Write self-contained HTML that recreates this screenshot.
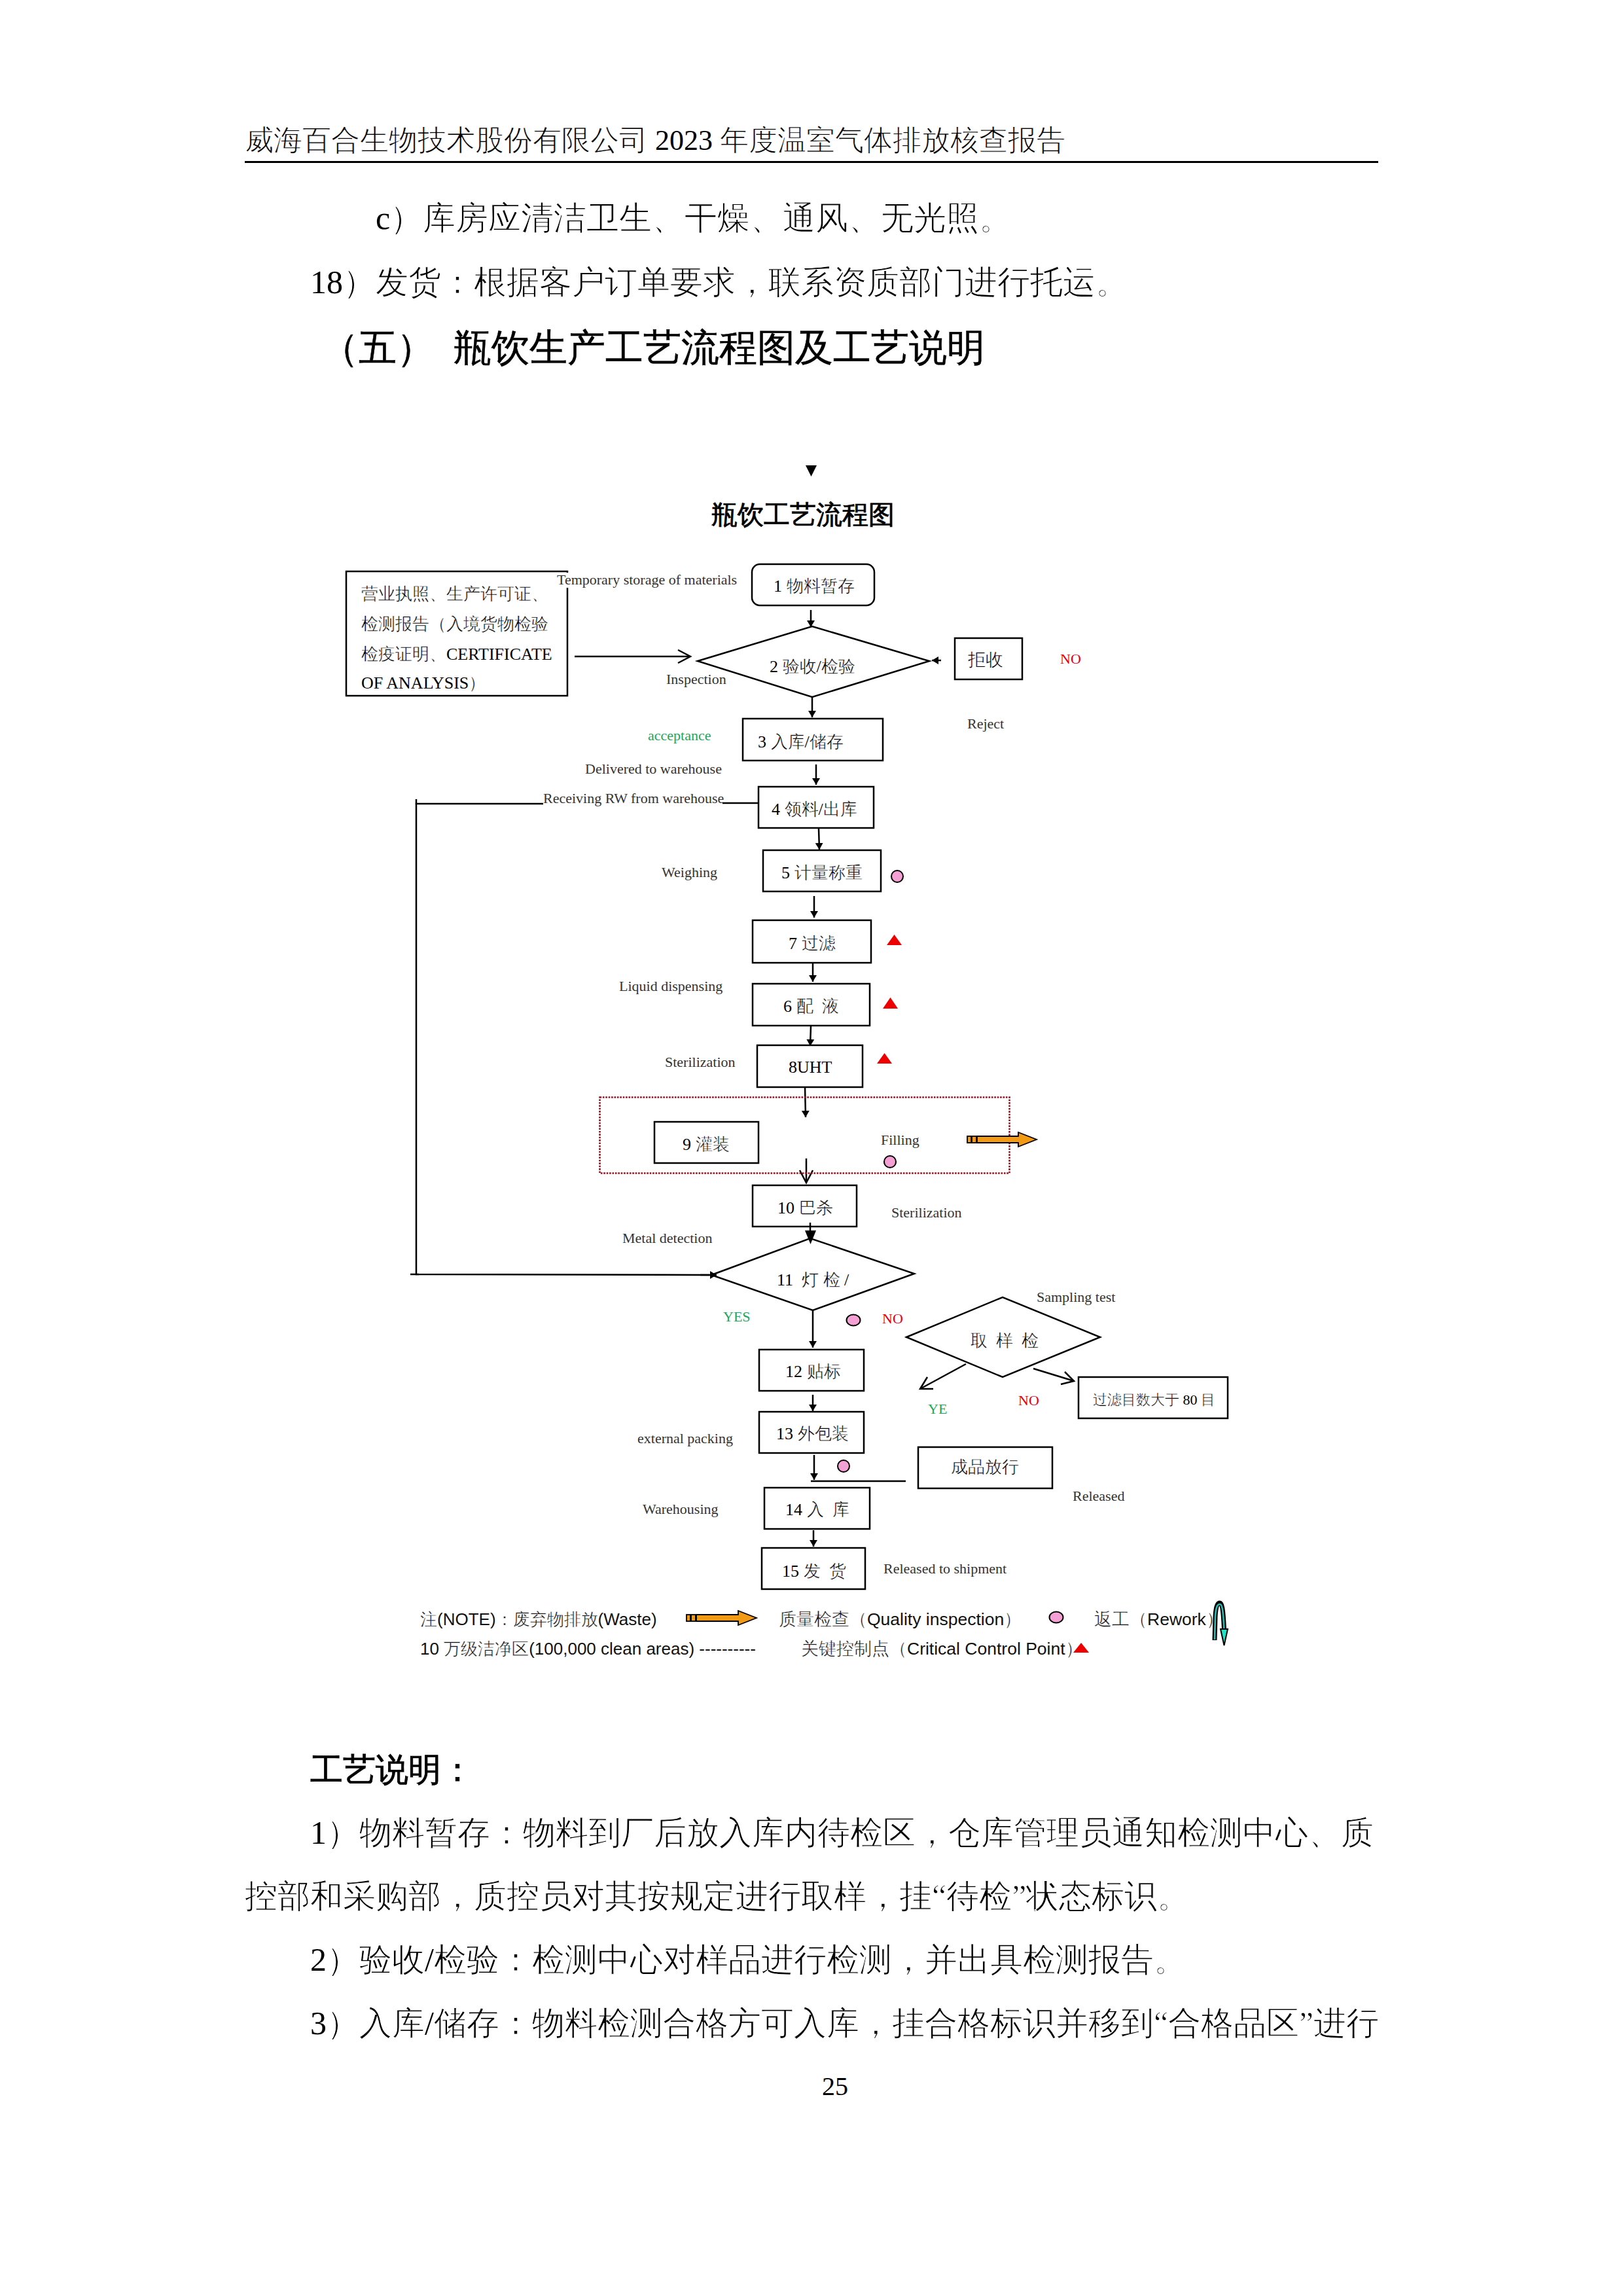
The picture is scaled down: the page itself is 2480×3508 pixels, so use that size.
<!DOCTYPE html>
<html><head><meta charset="utf-8">
<style>
html,body{margin:0;padding:0;background:#fff;}
#pg{position:relative;width:2480px;height:3508px;overflow:hidden;background:#fff;font-family:"Liberation Serif",serif;color:#000;}
.t{position:absolute;white-space:pre;line-height:1;}
.b50{font-size:50px;}
.th{-webkit-text-stroke:1px #fff;}
.n{-webkit-text-stroke:0;}
#svg{position:absolute;left:0;top:0;}
</style></head><body><div id="pg">
<div class="t th" style="left:374px;top:193px;font-size:44px;-webkit-text-stroke:0.9px #fff">威海百合生物技术股份有限公司<span class="n"> 2023 </span>年度温室气体排放核查报告</div>
<div style="position:absolute;left:374px;top:246px;width:1732px;height:3px;background:#000"></div>
<div class="t b50 th" style="left:574px;top:308px"><span class="n">c</span>）库房应清洁卫生、干燥、通风、无光照。</div>
<div class="t b50 th" style="left:474px;top:406px"><span class="n">18</span>）发货：根据客户订单要求，联系资质部门进行托运。</div>
<div class="t" style="left:490px;top:503px;font-size:58px;-webkit-text-stroke:0.5px #000">（五）  瓶饮生产工艺流程图及工艺说明</div>
<div class="t b50" style="left:474px;top:2679px;-webkit-text-stroke:0.9px #000">工艺说明：</div>
<div class="t b50 th" style="left:474px;top:2775px"><span class="n">1</span>）物料暂存：物料到厂后放入库内待检区，仓库管理员通知检测中心、质</div>
<div class="t b50 th" style="left:374px;top:2872px">控部和采购部，质控员对其按规定进行取样，挂“待检”状态标识。</div>
<div class="t b50 th" style="left:474px;top:2969px"><span class="n">2</span>）验收<span class="n">/</span>检验：检测中心对样品进行检测，并出具检测报告。</div>
<div class="t b50 th" style="left:474px;top:3066px"><span class="n">3</span>）入库<span class="n">/</span>储存：物料检测合格方可入库，挂合格标识并移到“合格品区”进行</div>
<div class="t" style="left:1256px;top:3168px;font-size:40px">25</div>
<svg id="svg" width="2480" height="3508" viewBox="0 0 2480 3508">
<defs>
<marker id="ah" viewBox="0 0 10 12" refX="10" refY="6" markerWidth="10" markerHeight="12" markerUnits="userSpaceOnUse" orient="auto"><path d="M0,0 L10,6 L0,12 z" fill="#000"/></marker>
</defs>
<g fill="none" stroke="#000" stroke-width="2.5">
<!-- top-left doc box -->
<rect x="529" y="873" width="338" height="190"/>
<!-- box1 rounded -->
<rect x="1149" y="862" width="187" height="63" rx="12"/>
<!-- diamond 2 -->
<polygon points="1066,1010 1241,957 1420,1010 1241,1065"/>
<!-- reject -->
<rect x="1459" y="975" width="103" height="63"/>
<rect x="1135" y="1098" width="214" height="64"/>
<rect x="1159" y="1202" width="176" height="63"/>
<rect x="1166" y="1299" width="180" height="63"/>
<rect x="1150" y="1406" width="181" height="65"/>
<rect x="1150" y="1503" width="179" height="64"/>
<rect x="1157" y="1597" width="161" height="64"/>
<rect x="1000" y="1714" width="159" height="63"/>
<rect x="1150" y="1811" width="159" height="63"/>
<polygon points="1087,1948 1238,1892 1397,1946 1242,2002"/>
<rect x="1160" y="2062" width="160" height="63"/>
<rect x="1160" y="2157" width="160" height="63"/>
<polygon points="1385,2043 1532,1982 1681,2043 1532,2104"/>
<rect x="1648" y="2104" width="228" height="63"/>
<rect x="1403" y="2211" width="205" height="63"/>
<rect x="1168" y="2273" width="161" height="63"/>
<rect x="1164" y="2365" width="158" height="63"/>
<!-- loop -->
<polyline points="830,1228 636,1228 636,1947 1084,1948"/>
<line x1="636" y1="1221" x2="636" y2="1229"/>
<line x1="627" y1="1947" x2="640" y2="1947"/>
<line x1="1104" y1="1227" x2="1158" y2="1227"/>
<line x1="1239" y1="2263" x2="1384" y2="2263"/>
<!-- arrows with filled heads -->
<line x1="1239" y1="932" x2="1239" y2="958" marker-end="url(#ah)"/>
<line x1="1241" y1="1065" x2="1241" y2="1096" marker-end="url(#ah)"/>
<line x1="1247" y1="1168" x2="1247" y2="1199" marker-end="url(#ah)"/>
<line x1="1251" y1="1266" x2="1252" y2="1298" marker-end="url(#ah)"/>
<line x1="1244" y1="1369" x2="1244" y2="1402" marker-end="url(#ah)"/>
<line x1="1242" y1="1472" x2="1242" y2="1500" marker-end="url(#ah)"/>
<line x1="1239" y1="1568" x2="1238" y2="1598" marker-end="url(#ah)"/>
<line x1="1230" y1="1660" x2="1231" y2="1707" marker-end="url(#ah)"/>
<line x1="1238" y1="1868" x2="1238" y2="1882"/>
<polygon points="1230,1880 1247,1880 1238.5,1901" fill="#000" stroke="none"/>
<line x1="1242" y1="2002" x2="1242" y2="2059" marker-end="url(#ah)"/>
<line x1="1242" y1="2131" x2="1242" y2="2156" marker-end="url(#ah)"/>
<line x1="1244" y1="2223" x2="1244" y2="2261" marker-end="url(#ah)"/>
<line x1="1243" y1="2338" x2="1243" y2="2363" marker-end="url(#ah)"/>
<line x1="1070" y1="1948" x2="1095" y2="1948" marker-end="url(#ah)"/>
<line x1="1438" y1="1009" x2="1424" y2="1009" marker-end="url(#ah)"/>
<!-- open arrows -->
<line x1="878" y1="1003" x2="1054" y2="1003"/>
<polyline points="1036,993 1055,1003 1036,1013"/>
<line x1="1232" y1="1770" x2="1232" y2="1806"/>
<polyline points="1222,1788 1232,1807 1242,1788"/>
<line x1="1476" y1="2084" x2="1406" y2="2122"/>
<polyline points="1417,2104 1406,2122 1426,2122"/>
<line x1="1579" y1="2091" x2="1641" y2="2110"/>
<polyline points="1627,2096 1641,2110 1621,2115"/>
</g>
<rect x="916.5" y="1676.5" width="626" height="116" fill="none" stroke="#9a0c1c" stroke-width="2.6" stroke-dasharray="2.6,1.8"/>
<!-- pink circles -->
<g fill="#f4a0d4" stroke="#000" stroke-width="2">
<circle cx="1371" cy="1339" r="9"/>
<circle cx="1360" cy="1775" r="9"/>
<ellipse cx="1304" cy="2017" rx="10.5" ry="8.5"/>
<circle cx="1289" cy="2240" r="9"/>
<ellipse cx="1614" cy="2471" rx="10.5" ry="8.5"/>
</g>
<!-- red triangles -->
<g fill="#ee0000">
<polygon points="1355,1444 1366.5,1428 1378,1444"/>
<polygon points="1349,1541 1360.5,1524 1372,1541"/>
<polygon points="1340,1625 1351.5,1609 1363,1625"/>
<polygon points="1640,2525 1652,2510 1664,2525"/>
</g>
<!-- orange arrows -->
<g stroke="#000" stroke-width="1.8" fill="#f39a14">
<path d="M1493,1736 L1556,1736 L1556,1730 L1584,1741 L1556,1752 L1556,1746 L1493,1746 Z"/>
<rect x="1478" y="1736" width="6" height="10"/><rect x="1485" y="1736" width="7" height="10"/>
<path d="M1064,2467 L1128,2467 L1128,2461 L1156,2472 L1128,2483 L1128,2477 L1064,2477 Z"/>
<rect x="1049" y="2467" width="6" height="10"/><rect x="1056" y="2467" width="7" height="10"/>
</g>
<!-- teal rework arrow -->
<path d="M1856,2506 L1857,2470 C1858,2452 1861,2449 1864,2449 C1867,2449 1869,2456 1870.5,2490" fill="none" stroke="#000" stroke-width="7"/>
<path d="M1856,2505 L1857,2470 C1858,2453 1861,2451 1864,2451 C1867,2451 1869,2457 1870.5,2490" fill="none" stroke="#30b8b0" stroke-width="2.6"/>
<polygon points="1865,2489 1876,2489 1870.5,2514" fill="#20e0c8" stroke="#000" stroke-width="2"/>
<!-- black triangle -->
<polygon points="1231,711 1248,711 1239.5,728" fill="#000"/>
<g font-family="Liberation Serif, serif" font-size="26" fill="#000" stroke="#fff" stroke-width="0.45" style="white-space:pre">
<text x="552" y="916">营业执照、生产许可证、</text>
<text x="552" y="962">检测报告（入境货物检验</text>
<text x="552" y="1008">检疫证明、<tspan stroke="none">CERTIFICATE</tspan></text>
<text x="552" y="1052"><tspan stroke="none">OF ANALYSIS</tspan>）</text>
<text x="1182" y="904"><tspan stroke="none">1 </tspan>物料暂存</text>
<text x="1176" y="1027"><tspan stroke="none">2 </tspan>验收<tspan stroke="none">/</tspan>检验</text>
<text x="1479" y="1017" font-size="27">拒收</text>
<text x="1158" y="1142"><tspan stroke="none">3 </tspan>入库<tspan stroke="none">/</tspan>储存</text>
<text x="1179" y="1245"><tspan stroke="none">4 </tspan>领料<tspan stroke="none">/</tspan>出库</text>
<text x="1194" y="1342"><tspan stroke="none">5 </tspan>计量称重</text>
<text x="1205" y="1450"><tspan stroke="none">7 </tspan>过滤</text>
<text x="1197" y="1546"><tspan stroke="none">6 </tspan>配<tspan stroke="none"> &#160;</tspan>液</text>
<text x="1205" y="1639"><tspan stroke="none">8UHT</tspan></text>
<text x="1043" y="1757"><tspan stroke="none">9 </tspan>灌装</text>
<text x="1188" y="1854"><tspan stroke="none">10 </tspan>巴杀</text>
<text x="1187" y="1964"><tspan stroke="none">11 &#160;</tspan>灯 检<tspan stroke="none"> /</tspan></text>
<text x="1483" y="2057">取<tspan stroke="none"> &#160;</tspan>样<tspan stroke="none"> &#160;</tspan>检</text>
<text x="1200" y="2104"><tspan stroke="none">12 </tspan>贴标</text>
<text x="1670" y="2146" font-size="22">过滤目数大于<tspan stroke="none"> 80 </tspan>目</text>
<text x="1186" y="2199"><tspan stroke="none">13 </tspan>外包装</text>
<text x="1453" y="2250">成品放行</text>
<text x="1200" y="2315"><tspan stroke="none">14 </tspan>入<tspan stroke="none"> &#160;</tspan>库</text>
<text x="1195" y="2409"><tspan stroke="none">15 </tspan>发<tspan stroke="none"> &#160;</tspan>货</text>
</g>
<text x="1087" y="800" font-family="Liberation Serif, serif" font-size="40" stroke="#000" stroke-width="0.8">瓶饮工艺流程图</text>
<g font-family="Liberation Serif, serif" font-size="22" fill="#333" style="white-space:pre">
<rect x="847" y="875" width="283" height="23" fill="#fff"/><text x="851" y="893">Temporary storage of materials</text>
<text x="1018" y="1045">Inspection</text>
<text x="1478" y="1113">Reject</text>
<text x="894" y="1182">Delivered to warehouse</text>
<text x="830" y="1227">Receiving RW from warehouse</text>
<text x="1011" y="1340">Weighing</text>
<text x="946" y="1514">Liquid dispensing</text>
<text x="1016" y="1630">Sterilization</text>
<text x="1346" y="1749">Filling</text>
<text x="1362" y="1860">Sterilization</text>
<text x="951" y="1899">Metal detection</text>
<text x="1584" y="1989">Sampling test</text>
<text x="974" y="2205">external packing</text>
<text x="1639" y="2293">Released</text>
<text x="982" y="2313">Warehousing</text>
<text x="1350" y="2404">Released to shipment</text>
</g>
<g font-family="Liberation Serif, serif" font-size="22" style="white-space:pre">
<text x="1620" y="1014" fill="#e3001b">NO</text>
<text x="990" y="1131" fill="#1aa85a">acceptance</text>
<text x="1105" y="2019" fill="#1aa85a">YES</text>
<text x="1348" y="2022" fill="#e3001b">NO</text>
<text x="1418" y="2160" fill="#1aa85a">YE</text>
<text x="1556" y="2147" fill="#e3001b">NO</text>
</g>
<g font-family="Liberation Sans, sans-serif" font-size="26.5" fill="#111" stroke="#fff" stroke-width="0.45" style="white-space:pre">
<text x="642" y="2483" font-size="26">注<tspan stroke="none">(NOTE)</tspan>：废弃物排放<tspan stroke="none">(Waste)</tspan></text>
<text x="1190" y="2483">质量检查（<tspan stroke="none">Quality inspection</tspan>）</text>
<text x="1672" y="2483">返工（<tspan stroke="none">Rework</tspan>）</text>
<text x="642" y="2528" font-size="26"><tspan stroke="none">10 </tspan>万级洁净区<tspan stroke="none">(100,000 clean areas) ----------</tspan></text>
<text x="1224" y="2528">关键控制点（<tspan stroke="none">Critical Control Point</tspan>）</text>
</g>

</svg>

</div></body></html>
